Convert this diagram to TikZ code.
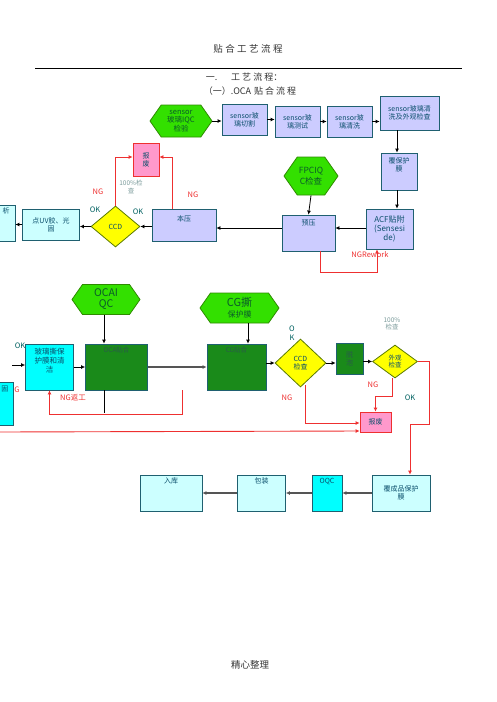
\documentclass[tikz,border=0pt]{standalone}
\usepackage{fontspec}
\setmainfont{Noto Sans CJK SC}
\usetikzlibrary{arrows.meta,shapes.geometric,shapes.symbols,calc}
\definecolor{lavc}{HTML}{CCCCFF}
\definecolor{bordc}{HTML}{1F6070}
\definecolor{txtc}{HTML}{0B4F6C}
\definecolor{hexg}{HTML}{33E000}
\definecolor{hexb}{HTML}{2E8B00}
\definecolor{hext}{HTML}{0A5A2A}
\definecolor{dgr}{HTML}{1A8A1A}
\definecolor{dgrt}{HTML}{2A5A4A}
\definecolor{yel}{HTML}{FFFF00}
\definecolor{diab}{HTML}{5A7A00}
\definecolor{cyanc}{HTML}{00FFFF}
\definecolor{lcyan}{HTML}{CCFFFF}
\definecolor{pinkc}{HTML}{FF99CC}
\definecolor{redc}{HTML}{EE3030}
\definecolor{okc}{HTML}{006060}
\definecolor{pctc}{HTML}{7A9A9A}
\definecolor{grayc}{HTML}{555555}
\definecolor{hdr}{HTML}{333333}
\begin{document}
\begin{tikzpicture}[x=1pt,y=-1pt,
  box/.style={draw=bordc, line width=0.8pt, inner sep=1pt, align=center, text=txtc, font=\fontsize{7}{8}\selectfont},
  lav/.style={box, fill=lavc},
  lcy/.style={box, fill=lcyan},
  cyb/.style={box, fill=cyanc},
  dgb/.style={box, fill=dgr, text=dgrt},
  pnk/.style={box, fill=pinkc, draw=redc},
  hexa/.style={signal, signal to=east and west, signal pointer angle=110, draw=hexb, fill=hexg, line width=0.8pt, inner sep=0pt, align=center, text=hext, font=\fontsize{7.5}{8.5}\selectfont},
  dia/.style={diamond, draw=diab, fill=yel, line width=0.8pt, inner sep=0pt, align=center, text=txtc, font=\fontsize{7}{8}\selectfont},
  toplbl/.style={anchor=north, inner sep=3pt, text=txtc, font=\fontsize{7}{8}\selectfont},
  arr/.style={-{Latex[length=4pt,width=4pt]}, line width=0.8pt},
  rarr/.style={arr, draw=redc, line width=0.9pt},
  garr/.style={arr, draw=grayc, line width=1.4pt},
  ok/.style={text=okc, font=\fontsize{7.5}{8}\selectfont, inner sep=0pt},
  ng/.style={text=redc, font=\fontsize{7.5}{8}\selectfont, inner sep=0pt},
  pct/.style={text=pctc, font=\fontsize{6.5}{7.5}\selectfont, inner sep=0pt, align=center}
]
\useasboundingbox (0,0) rectangle (496,702);
% header
\node[text=hdr, font=\fontsize{9.5}{10}\selectfont] (title) at (248,49) {贴\hspace{2.5pt}合\hspace{2.5pt}工\hspace{2.5pt}艺\hspace{2.5pt}流\hspace{2.5pt}程};
\draw[line width=0.8pt] (35,68) -- (462,68);
\node[text=hdr, font=\fontsize{9}{10}\selectfont] (h1) at (244,77) {一.\hspace{14pt}工\hspace{2pt}艺\hspace{2pt}流\hspace{2pt}程：};
\node[text=hdr, font=\fontsize{9}{10}\selectfont] (h2) at (250,91) {（一）.OCA\hspace{3pt}贴\hspace{2pt}合\hspace{2pt}流\hspace{2pt}程};
% top row
\node[hexa, minimum width=62pt, minimum height=32pt] (iqca) at (181,121) {sensor\\玻璃IQC\\检验};
\node[lav, minimum width=45pt, minimum height=31pt] (cut) at (244.5,119.5) {sensor玻\\璃切割};
\node[lav, minimum width=45pt, minimum height=31pt] (tst) at (297.5,121.5) {sensor玻\\璃测试};
\node[lav, minimum width=45pt, minimum height=31pt] (wsh) at (349.5,121.5) {sensor玻\\璃清洗};
\node[lav, minimum width=59pt, minimum height=34pt] (wchk) at (409.5,113) {sensor玻璃清\\洗及外观检查};
\node[lav, minimum width=36pt, minimum height=37pt] (film) at (399,171.5) {覆保护\\膜\\[6pt]};
\node[lav, minimum width=47pt, minimum height=40pt, font=\fontsize{8}{9}\selectfont] (acf) at (389.5,229) {ACF贴附\\(Sensesi\\de)};
\node[hexa, minimum width=54pt, minimum height=38pt, font=\fontsize{8.5}{11}\selectfont] (fpc) at (311,176) {FPCIQ\\C检查};
\node[lav, minimum width=53pt, minimum height=36pt, label={[toplbl, inner sep=5pt]north:预压}] (pre) at (308.5,233) {};
\node[lav, minimum width=64pt, minimum height=32pt] (ben) at (184,225) {本压\\[4pt]};
\node[dia, minimum width=49pt, minimum height=41pt] (ccd) at (115.5,226.5) {CCD};
\node[lcy, minimum width=57pt, minimum height=31pt] (uv) at (51,224.5) {点UV胶、光\\固};
\node[lcy, minimum width=35pt, minimum height=36pt] (zhe) at (-2.5,223) {};
\node[toplbl] (zhet) at (6,204) {析};
\node[pnk, minimum width=26pt, minimum height=33pt] (scr1) at (146,159.5) {报\\废};
\node[pct] (p1) at (131,187) {100\%检\\查};
\node[ng] (ng1) at (98,192) {NG};
\node[ng] (ng2) at (193,195) {NG};
\node[ok] (ok1) at (95,210) {OK};
\node[ok] (ok2) at (138,212) {OK};
\node[ng] (ngr) at (370,255) {NGRework};
% second section
\node[hexa, minimum width=68pt, minimum height=30pt, font=\fontsize{10.5}{11}\selectfont] (ociqc) at (106,299.5) {OCAI\\QC};
\node[hexa, minimum width=79pt, minimum height=30pt, font=\fontsize{11}{11}\selectfont] (cgh) at (239.5,308) {CG撕\\{\fontsize{8}{8}\selectfont 保护膜}};
\node[cyb, minimum width=48pt, minimum height=46pt, font=\fontsize{7.5}{9}\selectfont] (gls) at (49.5,367) {玻璃撕保\\护膜和清\\洁\\[4pt]};
\node[dgb, minimum width=62pt, minimum height=46pt, label={[toplbl, text=dgrt, font=\fontsize{6.5}{7}\selectfont]north:OCA贴合}] (oca) at (116.5,367) {};
\node[dgb, minimum width=59pt, minimum height=46pt, label={[toplbl, text=dgrt, font=\fontsize{6.5}{7}\selectfont]north:CG贴合}] (cg) at (236.5,367) {};
\node[dia, minimum width=51pt, minimum height=48pt] (ccd2) at (300.5,363) {CCD\\检查};
\node[dgb, minimum width=27pt, minimum height=31pt] (tp) at (349.5,359) {脱\\泡};
\node[dia, minimum width=45pt, minimum height=33pt, font=\fontsize{6.5}{7}\selectfont] (wg) at (395,361.5) {外观\\检查};
\node[pnk, minimum width=31pt, minimum height=20pt] (scr2) at (375.5,422) {报废};
\node[cyb, minimum width=36pt, minimum height=43pt] (lfix) at (-5,403.5) {};
\node[toplbl] (lfixt) at (5,383) {固};
\node[ng] (ng0) at (17,390) {G};
\node[ok] (ok0) at (20,346) {OK};
\node[ok, align=center, font=\fontsize{7.5}{9}\selectfont] (ok3) at (292,333) {O\\K};
\node[pct] (p2) at (392,324) {100\%\\检查};
\node[ng] (ng3) at (287,398) {NG};
\node[ng] (ng4) at (373,385) {NG};
\node[ok] (ok4) at (410,398) {OK};
\node[ng] (ngfg) at (73,398) {NG返工};
% bottom row
\node[lcy, minimum width=58pt, minimum height=36pt] (fin) at (401,493) {覆成品保护\\膜};
\node[cyb, minimum width=30pt, minimum height=36pt, label={[toplbl]north:OQC}] (oqc) at (327,493) {};
\node[lcy, minimum width=48pt, minimum height=36pt, label={[toplbl]north:包装}] (pack) at (261.5,493) {};
\node[lcy, minimum width=62pt, minimum height=36pt, label={[toplbl]north:入库}] (store) at (171,493) {};
\node[text=hdr, font=\fontsize{9.5}{10}\selectfont] (foot) at (250,665) {精心整理};
% coordinates
\coordinate (in0) at (12,365);
\coordinate (ngs) at (182,390);
\coordinate (lred) at (0,432);
% top connectors
\draw[arr] (iqca.east) -- (iqca.east -| cut.west);
\draw[arr] (cut.east) -- (cut.east -| tst.west);
\draw[arr] (tst.east) -- (tst.east -| wsh.west);
\draw[arr] (wsh.east) -- (wsh.east -| wchk.west);
\draw[arr] ($(wchk.south)+(-12.5,0)$) -- ($(film.north)+(-2,0)$);
\draw[arr] ($(film.south)+(-2,0)$) -- ($(acf.north)+(7.5,0)$);
\draw[arr] ($(acf.west)+(0,-1)$) -- ($(acf.west -| pre.east)+(0,-1)$);
\draw[arr] (fpc.south) -- (pre.north);
\draw[arr] ($(pre.west)+(0,-5)$) -- ($(pre.west -| ben.east)+(0,-5)$);
\draw[arr] (ben.west |- ccd.east) -- (ccd.east);
\draw[arr] (ccd.west) -- (ccd.west -| uv.east);
\draw[arr] (uv.west) -- (uv.west -| zhe.east);
\draw[rarr] (ccd.north) |- (scr1.west |- 0,157);
\draw[rarr] ($(ben.north)+(-12,0)$) |- (scr1.east |- 0,157);
\draw[rarr] ($(pre.south)+(11.5,0)$) -- ++(0,21) -| ($(acf.south)+(-12.5,0)$);
% second connectors
\draw[arr] (in0) -- (in0 -| gls.west);
\draw[arr] (gls.east) -- (gls.east -| oca.west);
\draw[garr] (oca.east) -- (oca.east -| cg.west);
\draw[arr] (ociqc.south -| 104,0) -- (oca.north -| 104,0);
\draw[arr] (cgh.south -| 248,0) -- (cg.north -| 248,0);
\draw[arr] (cg.east |- ccd2.east) -- (ccd2.east -| ccd2.west);
\draw[arr] (ccd2.east) -- (ccd2.east -| tp.west);
\draw[arr] (tp.east |- wg.west) -- (wg.west);
\draw[line width=0.8pt] ($(oca.south)+(-12.5,0)$) -- ++(0,23);
\draw[rarr] (ngs) -- ++(0,24) -| (gls.south);
\draw[rarr] ($(ccd2.south)+(4.5,0)$) ++(0,-2) |- ($(scr2.west)+(0,1)$);
\draw[rarr] (lred) -- ($(scr2.west)+(0,9)$);
\draw[rarr] ($(wg.south)+(-3,0)$) -- ++(0,18) -| (scr2.north);
\draw[rarr] (wg.east) -- ++(12,0) -- ++(0,63) -| ($(fin.north)+(9,0)$);
% bottom connectors
\draw[garr] (fin.west) -- (oqc.east);
\draw[garr] (oqc.west) -- (pack.east);
\draw[garr] (pack.west) -- (store.east);
\end{tikzpicture}
\end{document}
